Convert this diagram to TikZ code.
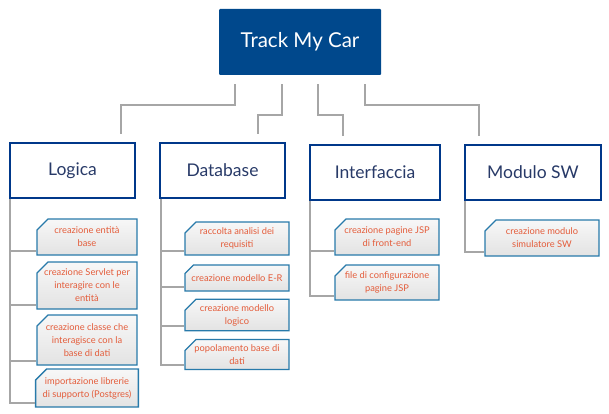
\documentclass[tikz,border=0pt]{standalone}
\usepackage{fontspec}
\setmainfont{Lato}
\usetikzlibrary{shapes.misc}
\definecolor{rootblue}{RGB}{0,72,140}
\definecolor{catblue}{RGB}{0,56,138}
\definecolor{cattext}{RGB}{40,58,104}
\definecolor{taskline}{RGB}{40,122,170}
\definecolor{tasktext}{RGB}{228,92,58}
\definecolor{linkgray}{RGB}{166,166,166}

\begin{document}
\begin{tikzpicture}[x=1pt,y=-1pt,
                root/.style={fill=rootblue,text=white,minimum width=162pt,minimum height=66pt,rounded corners=1pt,font=\fontsize{20.5}{24}\selectfont},
                cat/.style={draw=catblue,line width=1.6pt,text=cattext,fill=white,minimum height=55pt,font=\fontsize{17.5}{20}\selectfont},
                task/.style={chamfered rectangle,chamfered rectangle corners=north west,chamfered rectangle xsep=7pt,chamfered rectangle ysep=4pt,
                        draw=taskline,line width=1.3pt,top color=white!97!black,bottom color=white!89!black,text=tasktext,
                        align=center,inner xsep=0pt,inner ysep=1pt,font=\fontsize{9.3}{13}\selectfont},
                link/.style={draw=linkgray,line width=2pt,shorten <=9pt,shorten >=8pt},
                branch/.style={draw=linkgray,line width=2pt}]
                \useasboundingbox (0,0) rectangle (609,414);
                \node[root](Root)at(300, 42){Track My Car};
                \node[cat,minimum width=125pt](Logica)at(72.5, 170.5){Logica};
                \node[cat,minimum width=125pt](Database)at(222.5, 170.5){Database};
                \node[cat,minimum width=130pt](Interfaccia)at(375, 172.5){Interfaccia};
                \node[cat,minimum width=136pt](Modulo)at(533, 172.5){Modulo SW};
                % Logica
                \node[task,minimum width=100pt,minimum height=36pt](L1)at(87, 237){creazione entità\\base};
                \node[task,minimum width=100pt,minimum height=47pt](L2)at(87, 285.5){creazione Servlet per\\interagire con le\\entità};
                \node[task,minimum width=100pt,minimum height=50pt](L3)at(87, 340){creazione classe che\\interagisce con la\\base di dati};
                \node[task,minimum width=100pt,minimum height=38pt](L4)at(87, 388){importazione librerie\\di supporto (Postgres)};
                % Database
                \node[task,minimum width=104pt,minimum height=33pt](D1)at(237, 238.5){raccolta analisi dei\\requisiti};
                \node[task,minimum width=104pt,minimum height=26pt](D2)at(237, 278){creazione modello E-R};
                \node[task,minimum width=104pt,minimum height=25pt](D3)at(237, 315){creazione modello\\logico};
                \node[task,minimum width=104pt,minimum height=29pt](D4)at(237, 354.5){popolamento base di\\dati};
                % Interfaccia
                \node[task,minimum width=104pt,minimum height=36pt](I1)at(387, 237){creazione pagine JSP\\di front-end};
                \node[task,minimum width=104pt,minimum height=35pt](I2)at(387, 282.5){file di configurazione\\pagine JSP};
                % Modulo SW
                \node[task,minimum width=114pt,minimum height=36pt](M1)at(542, 238){creazione modulo\\simulatore SW};
                \path[link]([xshift=16pt]Root.south west) -- ++(0,30) -| ([xshift=-15pt]Logica.north east);
                \path[link]([xshift=63pt]Root.south west) -- ++(0,40) -| ([xshift=-28pt]Database.north east);
                \path[link]([xshift=99pt]Root.south west) -- ++(0,40) -| ([xshift=34pt]Interfaccia.north west);
                \path[link]([xshift=146pt]Root.south west) -- ++(0,30) -| ([xshift=15pt]Modulo.north west);
                \foreach \t in {L1,L2,L3,L4}
                        \path[branch]([xshift=1pt]Logica.south west) |- ([yshift=5pt]\t.south -| \t.west);
                \foreach \t in {D1,D2,D3,D4}
                        \path[branch]([xshift=2pt]Database.south west) |- ([yshift=5pt]\t.south -| \t.west);
                \foreach \t in {I1,I2}
                        \path[branch]([xshift=1pt]Interfaccia.south west) |- ([yshift=5pt]\t.south -| \t.west);
                \path[branch]([xshift=1pt]Modulo.south west) |- ([yshift=5pt]M1.south -| M1.west);
            \end{tikzpicture}
\end{document}
